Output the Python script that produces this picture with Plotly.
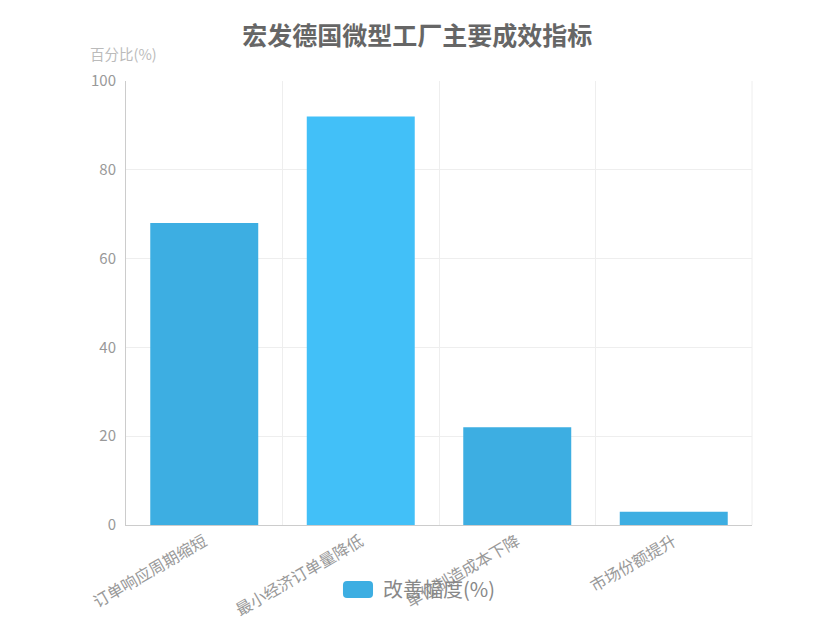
import plotly.graph_objects as go

categories = ['订单响应周期缩短', '最小经济订单量降低', '单位制造成本下降', '市场份额提升']
improvement = [68, 92, 22, 3]
series_name = '改善幅度(%)'

bar_colors = ['#3DAEE2', '#42C0F8', '#3DAEE2', '#3DAEE2']
legend_color = '#3DAEE2'

fig = go.Figure()
fig.add_trace(go.Bar(
    x=categories,
    y=improvement,
    name=series_name,
    marker=dict(color=bar_colors, line=dict(width=0)),
    showlegend=False,
))

# plot area is 626 x 444 px, used to convert pixel offsets to paper units
pw, ph = 626.0, 444.0


def rounded_rect(x0, y0, x1, y1, r):
    rx, ry = r / pw, r / ph
    return (f'M{x0 + rx},{y0} L{x1 - rx},{y0} Q{x1},{y0} {x1},{y0 + ry} '
            f'L{x1},{y1 - ry} Q{x1},{y1} {x1 - rx},{y1} '
            f'L{x0 + rx},{y1} Q{x0},{y1} {x0},{y1 - ry} '
            f'L{x0},{y0 + ry} Q{x0},{y0} {x0 + rx},{y0} Z')


fig.update_layout(
    width=835, height=625,
    paper_bgcolor='white', plot_bgcolor='white',
    font=dict(family='Noto Sans CJK SC, sans-serif', color='#999'),
    title=dict(text='<b>宏发德国微型工厂主要成效指标</b>', x=0.49, xanchor='center',
               y=0.955, yanchor='middle',
               font=dict(size=25, color='#666')),
    margin=dict(l=118, r=91, t=73, b=108),
    bargap=0.31,
    showlegend=False,
    annotations=[
        dict(text='百分比(%)', xref='paper', yref='paper', x=-0.06, y=1.063,
             xanchor='left', yanchor='middle', showarrow=False,
             font=dict(size=14.5, color='#bbb')),
        dict(text=series_name, xref='paper', yref='paper', x=0.4073, y=-0.1441,
             xanchor='left', yanchor='middle', showarrow=False,
             font=dict(size=20, color='#888')),
    ],
)

fig.update_xaxes(
    type='category', tickson='boundaries', showgrid=True, gridcolor='#eeeeee',
    showline=True, linecolor='#cccccc', linewidth=1, ticks='',
    tickangle=-30, tickfont=dict(size=16, color='#999'), automargin=False,
)
fig.update_yaxes(
    range=[0, 100], dtick=20, showgrid=True, gridcolor='#eeeeee',
    showline=True, linecolor='#cccccc', linewidth=1, ticks='',
    tickfont=dict(size=15, color='#999'), zeroline=False, automargin=False,
    ticklabelstandoff=6,
)

fig.add_shape(type='line', xref='paper', yref='paper', x0=1, x1=1, y0=0, y1=1,
              line=dict(color='#eeeeee', width=1))
fig.add_shape(type='path', xref='paper', yref='paper',
              path=rounded_rect(0.3466, -0.1644, 0.3946, -0.1261, 4),
              fillcolor=legend_color, line=dict(width=0))

fig.write_html('out.html')
